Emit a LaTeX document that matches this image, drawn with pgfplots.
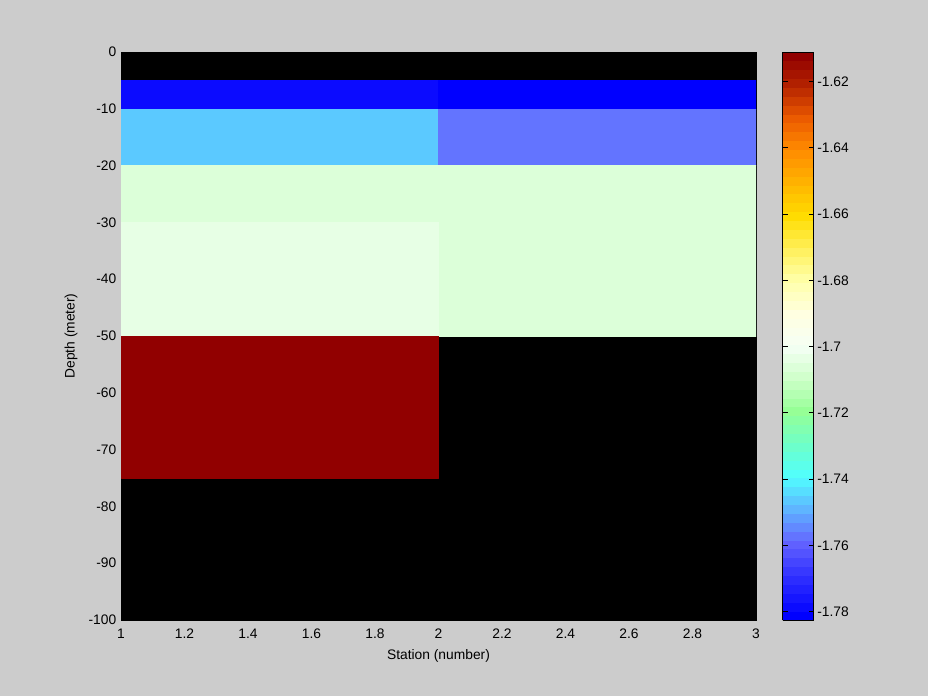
\documentclass[border=0pt]{standalone}
\usepackage{fontspec}
\setmainfont{Liberation Sans}
\usepackage{pgfplots}
\usepgfplotslibrary{patchplots}
\pgfplotsset{compat=1.18}
\definecolor{bggray}{RGB}{204,204,204}
\pgfplotsset{
  colormap={basecm}{
    rgb255(0pt)=(0,0,255)
    rgb255(2.5pt)=(10,10,255)
    rgb255(12.5pt)=(50,50,255)
    rgb255(22.5pt)=(100,100,255)
    rgb255(32.5pt)=(95,180,255)
    rgb255(42.5pt)=(80,255,255)
    rgb255(52.5pt)=(110,255,200)
    rgb255(62.5pt)=(150,255,150)
    rgb255(72.5pt)=(205,255,200)
    rgb255(82.5pt)=(245,255,245)
    rgb255(92.5pt)=(255,255,225)
    rgb255(102.5pt)=(255,255,170)
    rgb255(112.5pt)=(255,240,90)
    rgb255(122.5pt)=(255,220,0)
    rgb255(132.5pt)=(255,180,0)
    rgb255(142.5pt)=(255,140,0)
    rgb255(152.5pt)=(235,90,0)
    rgb255(162.5pt)=(180,35,0)
    rgb255(171.4pt)=(145,0,0)
  },
  colormap={bandcm}{samples of colormap=(64 of basecm)},
}
\pgfplotstableread{
x y c
1 -5 -1.7795
2 -5 -1.7795
2 -10 -1.7795
1 -10 -1.7795
2 -5 -1.7825
3 -5 -1.7825
3 -10 -1.7825
2 -10 -1.7825
1 -10 -1.747
2 -10 -1.747
2 -20 -1.747
1 -20 -1.747
2 -10 -1.757
3 -10 -1.757
3 -20 -1.757
2 -20 -1.757
1 -20 -1.706
2 -20 -1.706
2 -30 -1.706
1 -30 -1.706
2 -20 -1.706
3 -20 -1.706
3 -50 -1.706
2 -50 -1.706
1 -30 -1.703
2 -30 -1.703
2 -50 -1.703
1 -50 -1.703
1 -50 -1.613
2 -50 -1.613
2 -75 -1.613
1 -75 -1.613
}\cells
\begin{document}
\fontsize{13.8}{16}\selectfont
\begin{tikzpicture}
\fill[bggray] (0,0) rectangle (928pt,696pt);
\useasboundingbox (0,0) rectangle (928pt,696pt);
\begin{axis}[
  at={(121pt,76pt)}, anchor=south west,
  scale only axis, width=635pt, height=568pt,
  xmin=1, xmax=3, ymin=-100, ymax=0,
  xtick={1,1.2,1.4,1.6,1.8,2,2.2,2.4,2.6,2.8,3},
  ytick={-100,-90,-80,-70,-60,-50,-40,-30,-20,-10,0},
  major tick length=0pt,
  axis background/.style={fill=black},
  axis line style={black, line width=0.8pt},
  tick label style={font=\fontsize{13.8}{16}\selectfont},
  /pgf/number format/assume math mode=true,
  xticklabel style={yshift=-4pt},
  every axis x label/.style={at={(axis description cs:0.5,0)}, anchor=center, yshift=-36pt, font=\fontsize{13.8}{16}\selectfont},
  every axis y label/.style={at={(axis description cs:-0.0787,0.5)}, anchor=center, rotate=90, font=\fontsize{13.8}{16}\selectfont},
  xlabel={Station (number)},
  ylabel={Depth (meter)},
  colormap name=bandcm,
  colormap access=piecewise constant,
  point meta min=-1.7825, point meta max=-1.6111,
  colorbar,
  colorbar style={
    scale only axis, width=31pt, height=568pt,
    at={(parent axis.north east)}, anchor=north west, xshift=18pt,
    ytick={-1.78,-1.76,-1.74,-1.72,-1.7,-1.68,-1.66,-1.64,-1.62},
    major tick length=5pt, tick align=inside,
    ytick pos=both, yticklabel pos=right,
    axis line style={black, line width=0.8pt},
    major tick style={black, line width=0.8pt},
    yticklabel style={/pgf/number format/fixed, /pgf/number format/precision=2, /pgf/number format/assume math mode=true, font=\fontsize{13.8}{16}\selectfont, xshift=-1pt},
  },
]
\addplot[patch, patch type=rectangle, shader=flat mean, point meta=explicit] table[x=x, y=y, meta=c] {\cells};
\end{axis}
\end{tikzpicture}
\end{document}
